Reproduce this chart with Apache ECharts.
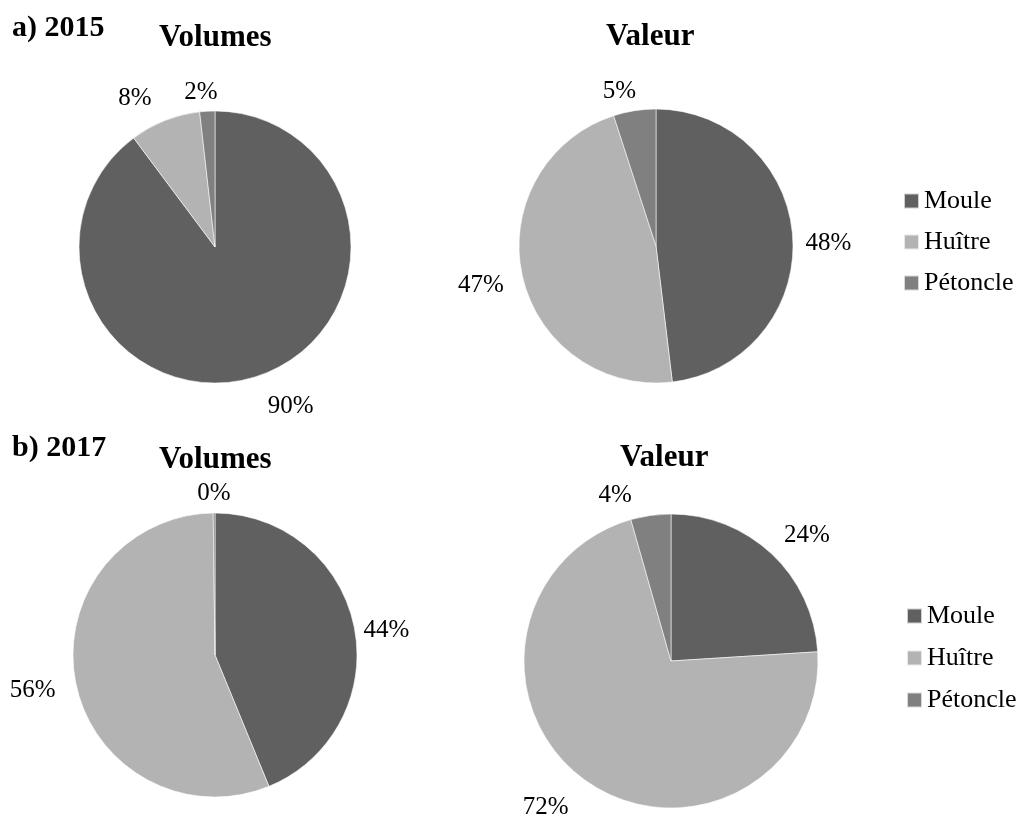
<!DOCTYPE html>
<html>
<head>
<meta charset="utf-8">
<title>Volumes et valeur</title>
<script src="https://cdn.jsdelivr.net/npm/echarts@6/dist/echarts.min.js"></script>
<style>
  html, body { margin: 0; padding: 0; background: #fff; }
  #chart { width: 1018px; height: 821px; }
</style>
</head>
<body>
<div id="chart"></div>
<script>
// categories
var especes = ['Moule', 'Huître', 'Pétoncle'];
// parts (%)
var volumes2015 = [89.8, 8.4, 1.8];
var valeur2015 = [48.1, 46.9, 5.0];
var volumes2017 = [43.8, 56.0, 0.2];
var valeur2017 = [24.0, 71.6, 4.4];

var couleurs = ['#606060', '#b3b3b3', '#808080'];
var police = "'Liberation Serif', 'Times New Roman', serif";

// small label nudges [dx, dy] per pie, per slice (Excel places them a bit off the radius)
var decalages = [
    [[23, 1], [-19, 6], [-5, 7]],
    [[0, 8], [-5, 2], [-11, 7]],
    [[-4, 10], [-7, 0], [0, 5]],
    [[10, 8], [-20, -2], [-32, 6]]
];

var dom = document.getElementById('chart');
var myChart = echarts.init(dom, null, { renderer: 'canvas' });

// label just outside the pie, along the slice middle
function placeLabel(params) {
    var pts = params.labelLinePoints;
    var rect = params.labelRect;
    if (!pts) return {};
    var x0 = pts[0][0], y0 = pts[0][1];
    var vx = pts[1][0] - x0, vy = pts[1][1] - y0;
    var len = Math.sqrt(vx * vx + vy * vy) || 1;
    vx = vx / len;
    vy = vy / len;
    var d = Math.abs(vx) * rect.width / 2 + Math.abs(vy) * rect.height / 2 + 12;
    var nudge = (decalages[params.seriesIndex] || [])[params.dataIndex] || [0, 0];
    return {
        x: x0 + vx * d + nudge[0],
        y: y0 + vy * d + nudge[1],
        align: 'center',
        verticalAlign: 'middle'
    };
}

function toData(values) {
    return values.map(function (v, i) {
        return { name: especes[i], value: v };
    });
}

function pie(name, values, center, radius) {
    return {
        name: name,
        type: 'pie',
        center: center,
        radius: radius,
        startAngle: 90,
        clockwise: true,
        avoidLabelOverlap: false,
        animation: false,
        emphasis: { disabled: true },
        data: toData(values),
        itemStyle: {
            borderColor: 'rgba(255,255,255,0.7)',
            borderWidth: 0.8
        },
        label: {
            show: true,
            position: 'outside',
            color: '#000',
            fontFamily: police,
            fontSize: 25,
            formatter: function (p) {
                return Math.round(p.percent) + '%';
            }
        },
        labelLine: {
            show: true,
            length: 10,
            length2: 0,
            lineStyle: { opacity: 0 }
        },
        labelLayout: placeLabel
    };
}

function titre(text, left, top, size) {
    return {
        text: text,
        left: left,
        top: top,
        padding: 0,
        textStyle: {
            fontFamily: police,
            fontWeight: 'bold',
            fontSize: size,
            color: '#000'
        }
    };
}

function legende(left, top, gap) {
    return {
        data: especes,
        orient: 'vertical',
        left: left,
        top: top,
        padding: 0,
        icon: 'rect',
        itemWidth: 15,
        itemHeight: 15,
        itemGap: gap,
        selectedMode: false,
        textStyle: {
            fontFamily: police,
            fontSize: 26,
            lineHeight: 24,
            color: '#000'
        }
    };
}

option = {
    backgroundColor: '#fff',
    color: couleurs,
    title: [
        titre('a) 2015', 12, 13, 30),
        titre('Volumes', 159, 22, 31),
        titre('Valeur', 606, 21, 31),
        titre('b) 2017', 12, 433, 30),
        titre('Volumes', 159, 444, 31),
        titre('Valeur', 620, 442, 31)
    ],
    legend: [
        legende(903, 188, 15),
        legende(906, 603, 16)
    ],
    series: [
        pie('Volumes 2015', volumes2015, [215, 247], 136),
        pie('Valeur 2015', valeur2015, [656, 246], 137),
        pie('Volumes 2017', volumes2017, [215, 655], 142),
        pie('Valeur 2017', valeur2017, [671, 661], 147)
    ]
};

myChart.setOption(option, true);
</script>
</body>
</html>
